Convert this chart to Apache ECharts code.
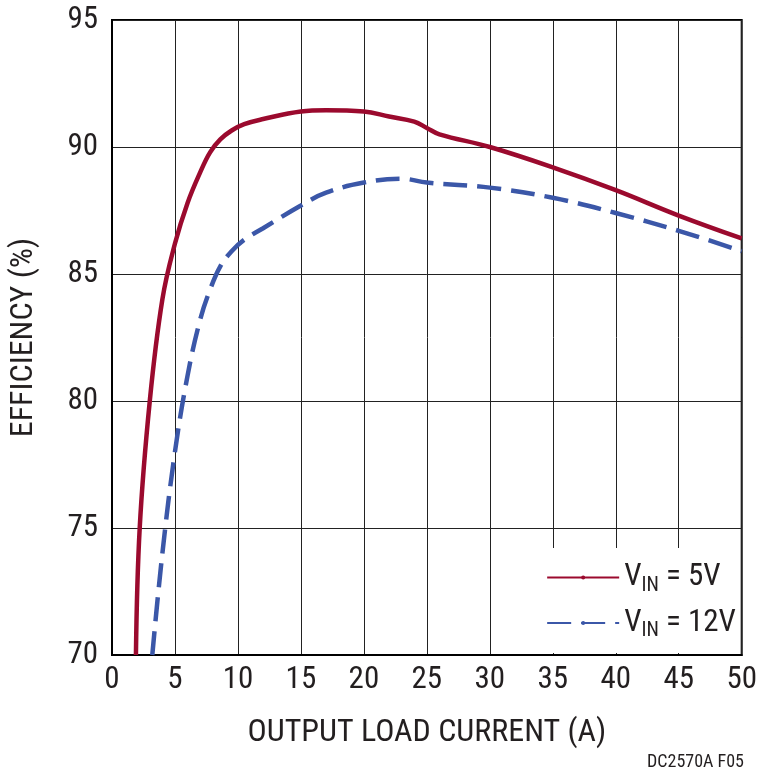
<!DOCTYPE html>
<html><head><meta charset="utf-8">
<script src="https://cdn.jsdelivr.net/npm/echarts@6/dist/echarts.min.js"></script>
<style>html,body{margin:0;padding:0;background:#fff}#c{width:760px;height:779px}</style>
</head><body><div id="c"></div>
<script>
const xTicks = [0,5,10,15,20,25,30,35,40,45,50];
const yTicks = [70,75,80,85,90,95];
const vin5 = [[1.9,70],[2.2,75],[3,80],[4,84],[5,86.2],[6,87.8],[7,89],[7.8,89.8],[8.6,90.3],[9.5,90.65],[10.5,90.9],[12,91.1],[15,91.4],[17,91.45],[20,91.4],[22,91.2],[24,91],[25,90.75],[26,90.5],[30,90],[35,89.2],[40,88.3],[45,87.3],[50,86.4]];
const vin12 = [[3.2,70],[4,74],[5,78],[6,81],[7,83.2],[7.8,84.4],[8.6,85.3],[9.5,85.9],[10.5,86.35],[12,86.8],[15,87.7],[17,88.2],[20,88.6],[23,88.75],[25,88.6],[30,88.4],[35,88],[40,87.4],[45,86.7],[50,85.9]];
const names = ['VIN = 5V','VIN = 12V'];
const F = 'Liberation Sans Narrow, Roboto Condensed, Liberation Sans, sans-serif';
const chart = echarts.init(document.getElementById('c'));
chart.setOption({
  animation:false,
  grid:{left:105,right:18,top:20,bottom:124,show:true,borderColor:'#000',borderWidth:2},
  xAxis:{type:'value',min:0,max:50,interval:5,name:'OUTPUT LOAD CURRENT (A)',nameLocation:'middle',nameGap:62,
    nameTextStyle:{fontFamily:F,fontSize:32,color:'#231f20'},
    axisLine:{lineStyle:{color:'#000',width:2}},axisTick:{show:false},
    axisLabel:{fontFamily:F,fontSize:31,color:'#231f20',margin:10},
    splitLine:{lineStyle:{color:'#222',width:1}}},
  yAxis:{type:'value',min:70,max:95,interval:5,name:'EFFICIENCY (%)',nameLocation:'middle',nameGap:72,
    nameTextStyle:{fontFamily:F,fontSize:32,color:'#231f20'},
    axisLine:{lineStyle:{color:'#000',width:2}},axisTick:{show:false},
    axisLabel:{fontFamily:F,fontSize:31,color:'#231f20',margin:14},
    splitLine:{lineStyle:{color:'#222',width:1}}},
  legend:{orient:'vertical',right:20,bottom:126,itemWidth:72,itemHeight:5,itemGap:12,
    backgroundColor:'#fff',padding:[14,4,12,14],
    data:names,
    formatter:function(n){return n==names[0]?'{a|V}{b|IN}{a| = 5V}':'{a|V}{b|IN}{a| = 12V}';},
    textStyle:{rich:{a:{fontFamily:F,fontSize:31,color:'#231f20'},b:{fontFamily:F,fontSize:20,color:'#231f20',verticalAlign:'bottom',padding:[16,0,0,0]}}}},
  graphic:[{type:'text',right:16,bottom:8,style:{text:'DC2570A F05',font:'18px '+F,fill:'#231f20'}}],
  series:[
    {name:names[0],type:'line',data:vin5,smooth:0.4,symbol:'none',lineStyle:{color:'#9b0a2e',width:4.5},itemStyle:{color:'#9b0a2e'}},
    {name:names[1],type:'line',data:vin12,smooth:0.4,symbol:'none',lineStyle:{color:'#3b57a8',width:4.5,type:[24,10]},itemStyle:{color:'#3b57a8'}}
  ]
});
</script></body></html>
